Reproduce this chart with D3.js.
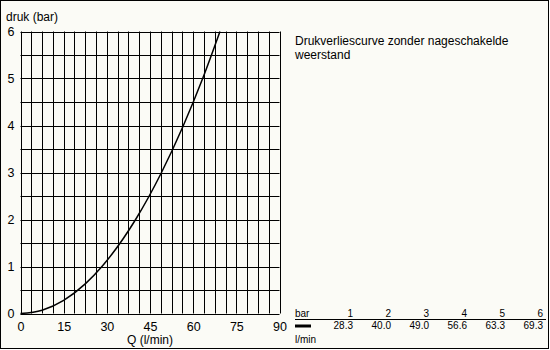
<!DOCTYPE html>
<html>
<head>
<meta charset="utf-8">
<script src="https://cdn.jsdelivr.net/npm/d3@7"></script>
<style>
  body { margin: 0; background: #fff; }
  svg text { font-family: "Liberation Sans", Arial, sans-serif; fill: #000; }
</style>
</head>
<body>
<div id="chart"></div>
<script>
// Gemeten punten (Q in l/min, druk in bar)
const flow = [0, 7.5, 15, 22.5, 28.3, 40.0, 49.0, 56.6, 63.3, 69.3];
const pressure = [0, 0.07, 0.28, 0.63, 1, 2, 3, 4, 5, 6];

// tabel onderaan
const tableBar = [1, 2, 3, 4, 5, 6];
const tableFlow = ["28.3", "40.0", "49.0", "56.6", "63.3", "69.3"];

const xTicks = [0, 15, 30, 45, 60, 75, 90];
const yTicks = [0, 1, 2, 3, 4, 5, 6];

const title = ["Drukverliescurve zonder nageschakelde", "weerstand"];

const width = 550, height = 350;

const svg = d3.select("#chart").append("svg")
    .attr("width", width)
    .attr("height", height);

// achtergrond + kader
svg.append("rect")
    .attr("x", 0.5).attr("y", 0.5)
    .attr("width", 548).attr("height", 348)
    .attr("fill", "#fbfbf6")
    .attr("stroke", "#000");

const x = d3.scaleLinear().domain([0, 90]).range([20.5, 279.5]);
const y = d3.scaleLinear().domain([0, 6]).range([313.5, 31.5]);

// raster: verticaal elke 3.75 l/min, horizontaal elke 0.5 bar
svg.append("g")
    .selectAll("line")
    .data(d3.range(0, 90.01, 3.75))
    .enter().append("line")
    .attr("x1", d => Math.round(x(d)) + 0.5)
    .attr("x2", d => Math.round(x(d)) + 0.5)
    .attr("y1", y(6)).attr("y2", y(0))
    .attr("stroke", "#000");

svg.append("g")
    .selectAll("line")
    .data(d3.range(0, 6.01, 0.5))
    .enter().append("line")
    .attr("x1", x(0)).attr("x2", x(90))
    .attr("y1", d => Math.round(y(d)) + 0.5)
    .attr("y2", d => Math.round(y(d)) + 0.5)
    .attr("stroke", "#000");

// as-labels
svg.append("g")
    .attr("transform", `translate(0,${y(0)})`)
    .call(d3.axisBottom(x).tickValues(xTicks).tickSize(0).tickPadding(9))
    .call(g => g.select(".domain").remove())
    .selectAll("text")
    .style("font-size", "12.5px")
    .style("font-family", "Liberation Sans, Arial, sans-serif");

svg.append("g")
    .attr("transform", `translate(${x(0)},0)`)
    .call(d3.axisLeft(y).tickValues(yTicks).tickFormat(d3.format("d")).tickSize(0).tickPadding(6))
    .call(g => g.select(".domain").remove())
    .selectAll("text")
    .style("font-size", "12.5px")
    .style("font-family", "Liberation Sans, Arial, sans-serif");

svg.append("text")
    .attr("x", 6).attr("y", 21)
    .style("font-size", "12px")
    .text("druk (bar)");

svg.append("text")
    .attr("x", x(45)).attr("y", 344)
    .attr("text-anchor", "middle")
    .style("font-size", "12px")
    .text("Q (l/min)");

// curve
const line = d3.line()
    .x(d => x(d[0]))
    .y(d => y(d[1]))
    .curve(d3.curveMonotoneX);

svg.append("path")
    .datum(d3.zip(flow, pressure))
    .attr("fill", "none")
    .attr("stroke", "#000")
    .attr("stroke-width", 1.5)
    .attr("d", line);

// titel
svg.append("g")
    .selectAll("text")
    .data(title)
    .enter().append("text")
    .attr("x", 295)
    .attr("y", (d, i) => 45 + i * 14)
    .style("font-size", "12px")
    .text(d => d);

// tabel
const col = d3.scaleLinear().domain([1, 6]).range([353, 543]);

svg.append("text").attr("x", 295).attr("y", 317)
    .style("font-size", "10px").text("bar");
svg.append("text").attr("x", 295).attr("y", 343)
    .style("font-size", "10px").text("l/min");

svg.append("line")
    .attr("x1", 295).attr("x2", 546)
    .attr("y1", 319.5).attr("y2", 319.5)
    .attr("stroke", "#000");

svg.append("line")
    .attr("x1", 295).attr("x2", 311)
    .attr("y1", 326).attr("y2", 326)
    .attr("stroke", "#000")
    .attr("stroke-width", 3);

svg.append("g")
    .selectAll("text")
    .data(tableBar)
    .enter().append("text")
    .attr("x", d => col(d))
    .attr("y", 317)
    .attr("text-anchor", "end")
    .style("font-size", "10px")
    .text(d => d);

svg.append("g")
    .selectAll("text")
    .data(tableFlow)
    .enter().append("text")
    .attr("x", (d, i) => col(tableBar[i]))
    .attr("y", 329)
    .attr("text-anchor", "end")
    .style("font-size", "10px")
    .text(d => d);
</script>
</body>
</html>
